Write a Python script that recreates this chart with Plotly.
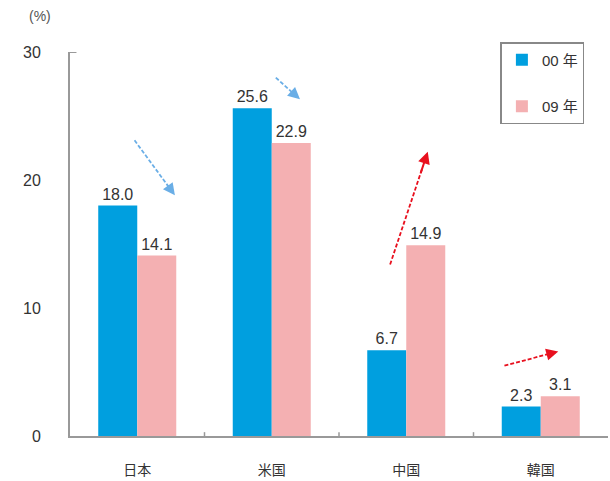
import plotly.graph_objects as go

categories = ["日本", "米国", "中国", "韓国"]
vals_00 = [18.0, 25.6, 6.7, 2.3]
vals_09 = [14.1, 22.9, 14.9, 3.1]
series_names = ["00 年", "09 年"]
y_ticks = [0, 10, 20, 30]

# trend arrows: (x0, y0, x1, y1, color) in data units (category index)
arrows = [
    (-0.02, 23.1, 0.28, 18.8, "#6aaee6"),
    (1.03, 28.0, 1.21, 26.3, "#6aaee6"),
    (1.88, 13.4, 2.16, 22.2, "#e8101e"),
    (2.73, 5.5, 3.13, 6.6, "#e8101e"),
]

FONT = "Liberation Sans, Arial, Noto Sans CJK JP, sans-serif"

fig = go.Figure()
fig.add_trace(go.Bar(
    x=list(range(len(categories))), y=vals_00, name=series_names[0],
    marker=dict(color="#009fdf", line=dict(width=0)),
    texttemplate="%{y:.1f}", textposition="outside",
    textfont=dict(size=16, color="#333333"), cliponaxis=False,
    legendgroup="a",
))
fig.add_trace(go.Bar(
    x=list(range(len(categories))), y=vals_09, name=series_names[1],
    marker=dict(color="#f4b0b2", line=dict(width=0)),
    texttemplate="%{y:.1f}", textposition="outside",
    textfont=dict(size=16, color="#333333"), cliponaxis=False,
    legendgroup="b",
))

for x0, y0, x1, y1, c in arrows:
    fig.add_shape(type="line", x0=x0, y0=y0, x1=x0 + (x1 - x0) * 0.85, y1=y0 + (y1 - y0) * 0.85,
                  line=dict(color=c, width=1.8, dash="4px,2px"), xref="x", yref="y")
    fig.add_annotation(x=x1, y=y1, ax=x0 + (x1 - x0) * 0.8, ay=y0 + (y1 - y0) * 0.8,
                       xref="x", yref="y", axref="x", ayref="y",
                       showarrow=True, arrowhead=2, arrowsize=1.2, arrowwidth=2,
                       arrowcolor=c, text="")

fig.add_annotation(x=-0.055, y=1.095, xref="paper", yref="paper", text="(%)",
                   showarrow=False, font=dict(size=14, color="#555555"),
                   xanchor="center", yanchor="middle")

fig.update_layout(
    width=610, height=481,
    margin=dict(l=70, r=2, t=52, b=45),
    paper_bgcolor="white", plot_bgcolor="white",
    font=dict(family=FONT, color="#333333"),
    barmode="group", bargap=0.42, bargroupgap=0,
    showlegend=True,
    legend=dict(x=0.800, y=1.026, xanchor="left", yanchor="top",
                bordercolor="#888888", borderwidth=1.5, bgcolor="white",
                font=dict(size=15, color="#333333"),
                tracegroupgap=24, itemwidth=30,
                traceorder="grouped"),
    xaxis=dict(
        tickmode="array", tickvals=list(range(len(categories))), ticktext=categories,
        range=[-0.5, len(categories) - 0.5],
        showline=True, linecolor="#999999", linewidth=2,
        ticks="", showgrid=False, zeroline=False,
        tickfont=dict(size=14, color="#333333"), ticklabelstandoff=20,
    ),
    yaxis=dict(
        range=[0, 30], tickvals=y_ticks,
        showline=True, linecolor="#999999", linewidth=2,
        ticks="", showgrid=False, zeroline=False,
        tickfont=dict(size=16, color="#333333"), ticklabelstandoff=24,
    ),
)

# category boundary ticks on the x-axis
for b in [0.5, 1.5, 2.5]:
    fig.add_shape(type="line", x0=b, x1=b, y0=0, y1=0.3, xref="x", yref="y",
                  line=dict(color="#999999", width=1.5))
# top tick on y-axis
fig.add_shape(type="line", x0=0, x1=0.012, y0=30, y1=30, xref="paper", yref="y",
              line=dict(color="#999999", width=2))

fig.write_html("out.html")
